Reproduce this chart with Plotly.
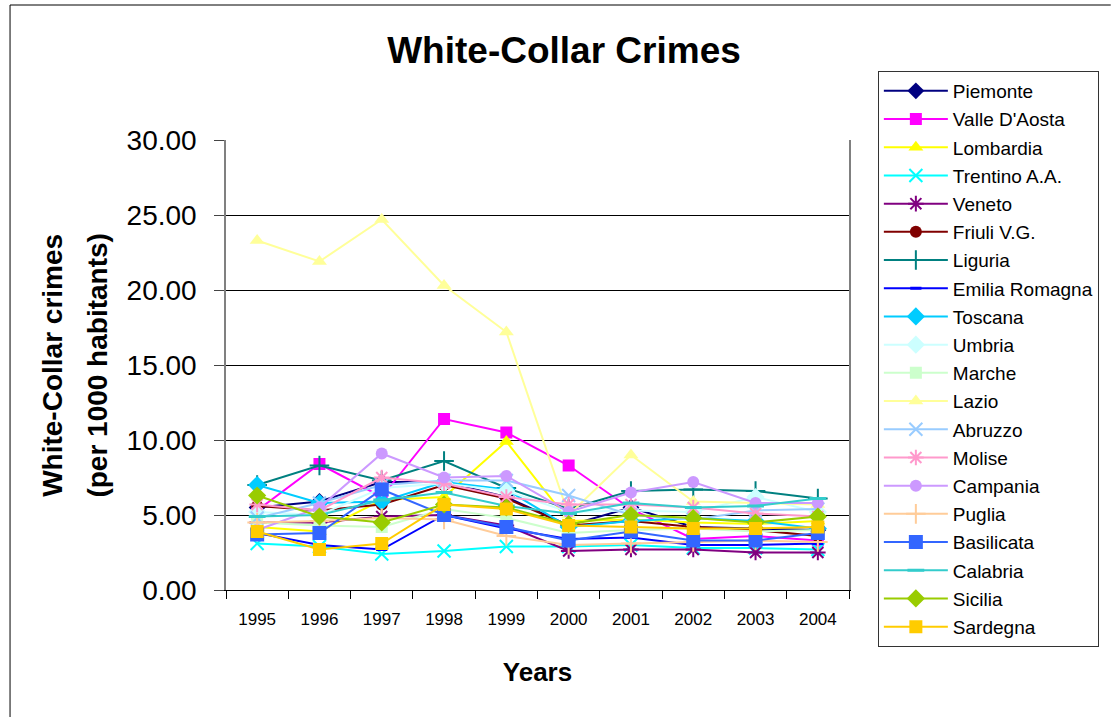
import plotly.graph_objects as go

years = ["1995", "1996", "1997", "1998", "1999", "2000", "2001", "2002", "2003", "2004"]

regions = ["Piemonte", "Valle D'Aosta", "Lombardia", "Trentino A.A.", "Veneto",
           "Friuli V.G.", "Liguria", "Emilia Romagna", "Toscana", "Umbria",
           "Marche", "Lazio", "Abruzzo", "Molise", "Campania", "Puglia",
           "Basilicata", "Calabria", "Sicilia", "Sardegna"]

piemonte = [5.5, 5.9, 7.2, 7.2, 6.2, 4.3, 5.5, 4.2, 4.1, 4.0]
valle_daosta = [5.3, 8.4, 6.2, 11.4, 10.5, 8.3, 5.4, 3.4, 3.6, 3.3]
lombardia = [4.2, 3.9, 6.0, 6.2, 9.9, 4.6, 4.7, 4.5, 4.4, 4.6]
trentino = [3.1, 2.9, 2.4, 2.6, 2.9, 2.9, 3.0, 2.8, 2.8, 2.7]
veneto = [4.5, 4.5, 4.9, 5.0, 4.3, 2.6, 2.7, 2.7, 2.5, 2.5]
friuli = [5.6, 5.3, 5.7, 7.0, 6.1, 4.3, 4.6, 4.2, 4.0, 3.6]
liguria = [7.0, 8.3, 7.3, 8.6, 6.8, 5.4, 6.6, 6.7, 6.6, 6.1]
emilia_romagna = [3.8, 3.0, 2.7, 5.0, 4.1, 3.4, 3.5, 3.0, 3.0, 3.1]
toscana = [7.0, 5.8, 5.9, 7.2, 6.7, 4.2, 4.6, 4.8, 4.6, 4.1]
umbria = [5.2, 5.0, 6.8, 7.1, 6.6, 5.2, 5.3, 5.2, 6.2, 5.2]
marche = [4.5, 4.3, 4.2, 5.4, 4.8, 3.8, 4.0, 4.1, 3.9, 4.0]
lazio = [23.3, 21.9, 24.7, 20.3, 17.2, 5.0, 9.0, 5.9, 5.8, 5.7]
abruzzo = [4.8, 5.8, 7.0, 7.3, 7.3, 6.3, 5.0, 4.7, 5.3, 5.4]
molise = [5.7, 5.3, 7.5, 7.1, 6.2, 5.7, 5.7, 5.5, 5.1, 4.9]
campania = [4.0, 5.5, 9.1, 7.5, 7.6, 5.2, 6.5, 7.2, 5.8, 5.8]
puglia = [4.5, 4.6, 4.8, 4.7, 3.6, 3.0, 3.1, 3.2, 3.3, 3.2]
basilicata = [3.7, 3.8, 6.7, 5.0, 4.2, 3.3, 3.9, 3.3, 3.3, 3.8]
calabria = [4.9, 5.0, 6.0, 6.5, 5.6, 5.1, 5.8, 5.5, 5.6, 6.1]
sicilia = [6.3, 4.9, 4.5, 5.7, 5.5, 4.4, 5.0, 4.8, 4.5, 4.9]
sardegna = [3.9, 2.7, 3.1, 5.7, 5.4, 4.3, 4.2, 4.1, 4.1, 4.2]

series = [piemonte, valle_daosta, lombardia, trentino, veneto, friuli, liguria,
          emilia_romagna, toscana, umbria, marche, lazio, abruzzo, molise,
          campania, puglia, basilicata, calabria, sicilia, sardegna]

colors = ["#000080", "#FF00FF", "#FFFF00", "#00FFFF", "#800080", "#800000",
          "#008080", "#0000FF", "#00CCFF", "#CCFFFF", "#CCFFCC", "#FFFF99",
          "#99CCFF", "#FF99CC", "#CC99FF", "#FFCC99", "#3366FF", "#33CCCC",
          "#99CC00", "#FFCC00"]

symbols = ["diamond", "square", "triangle-up", "x-thin-open", "asterisk-open",
           "circle", "cross-thin-open", "line-ew-open", "diamond", "diamond",
           "square", "triangle-up", "x-thin-open", "asterisk-open", "circle",
           "cross-thin-open", "square", "line-ew-open", "diamond", "square"]

sizes = [13, 12, 13, 13, 13, 12, 14, 8, 14, 14, 12, 13, 13, 13, 12, 14, 14, 12, 14, 13]

FONT = "Liberation Sans, Arial, sans-serif"

fig = go.Figure()
for name, vals, col, sym, sz in zip(regions, series, colors, symbols, sizes):
    open_sym = sym.endswith("-open")
    fig.add_trace(go.Scatter(
        x=years, y=vals, name=name, mode="lines+markers",
        line=dict(color=col, width=2),
        marker=dict(symbol=sym, size=sz, color=col,
                    line=dict(color=col, width=(3 if "line-ew" in sym else 2) if open_sym else 0)),
        legendgroup=name,
    ))

# plot area: x 226..852, y 140..590 (px)
fig.update_layout(
    width=1111, height=717,
    margin=dict(l=226, r=259, t=140, b=127),
    paper_bgcolor="white", plot_bgcolor="white",
    font=dict(family=FONT, color="black"),
    title=dict(text="<b>White-Collar Crimes</b>", font=dict(size=37, family=FONT),
               x=564 / 1111, xref="container", xanchor="center",
               y=1 - 50 / 717, yref="container", yanchor="middle"),
    showlegend=True,
    legend=dict(x=(881 - 226) / 626, y=(590 - 71) / 450, xanchor="left", yanchor="top",
                bordercolor="#333333", borderwidth=1, bgcolor="white",
                font=dict(size=19, family=FONT), tracegroupgap=0.5,
                itemwidth=64, maxheight=700),
    xaxis=dict(type="category", range=[-0.5, 9.5], showgrid=False, showline=True,
               linecolor="black", linewidth=1, ticks="outside", tickson="boundaries",
               ticklen=8, tickcolor="black", tickfont=dict(size=17, family=FONT),
               ticklabelstandoff=14,
               title=dict(text="<b>Years</b>", font=dict(size=26, family=FONT), standoff=34),
               zeroline=False),
    yaxis=dict(range=[0, 30], tickvals=[0, 5, 10, 15, 20, 25, 30], tickformat=".2f",
               showgrid=True, gridcolor="black", gridwidth=1,
               showline=True, linecolor="#808080", linewidth=1.5, mirror=True,
               ticks="outside", ticklen=10, tickcolor="#444444",
               tickfont=dict(size=28, family=FONT), ticklabelstandoff=12,
               zeroline=False),
)

# y-axis title as two rotated lines
fig.add_annotation(text="<b>White-Collar crimes</b>", xref="paper", yref="paper",
                   x=(51 - 226) / 626, y=0.5, textangle=-90, showarrow=False,
                   font=dict(size=28, family=FONT), xanchor="center", yanchor="middle")
fig.add_annotation(text="<b>(per 1000 habitants)</b>", xref="paper", yref="paper",
                   x=(96 - 226) / 626, y=0.5, textangle=-90, showarrow=False,
                   font=dict(size=28, family=FONT), xanchor="center", yanchor="middle")

# outer chart border (top and left visible)
fig.add_shape(type="line", xref="paper", yref="paper",
              x0=(9 - 226) / 626, x1=(1115 - 226) / 626,
              y0=(590 - 5) / 450, y1=(590 - 5) / 450, line=dict(color="black", width=1))
fig.add_shape(type="line", xref="paper", yref="paper",
              x0=(9 - 226) / 626, x1=(9 - 226) / 626,
              y0=(590 - 5) / 450, y1=(590 - 720) / 450, line=dict(color="black", width=1))

fig.write_html("out.html")
